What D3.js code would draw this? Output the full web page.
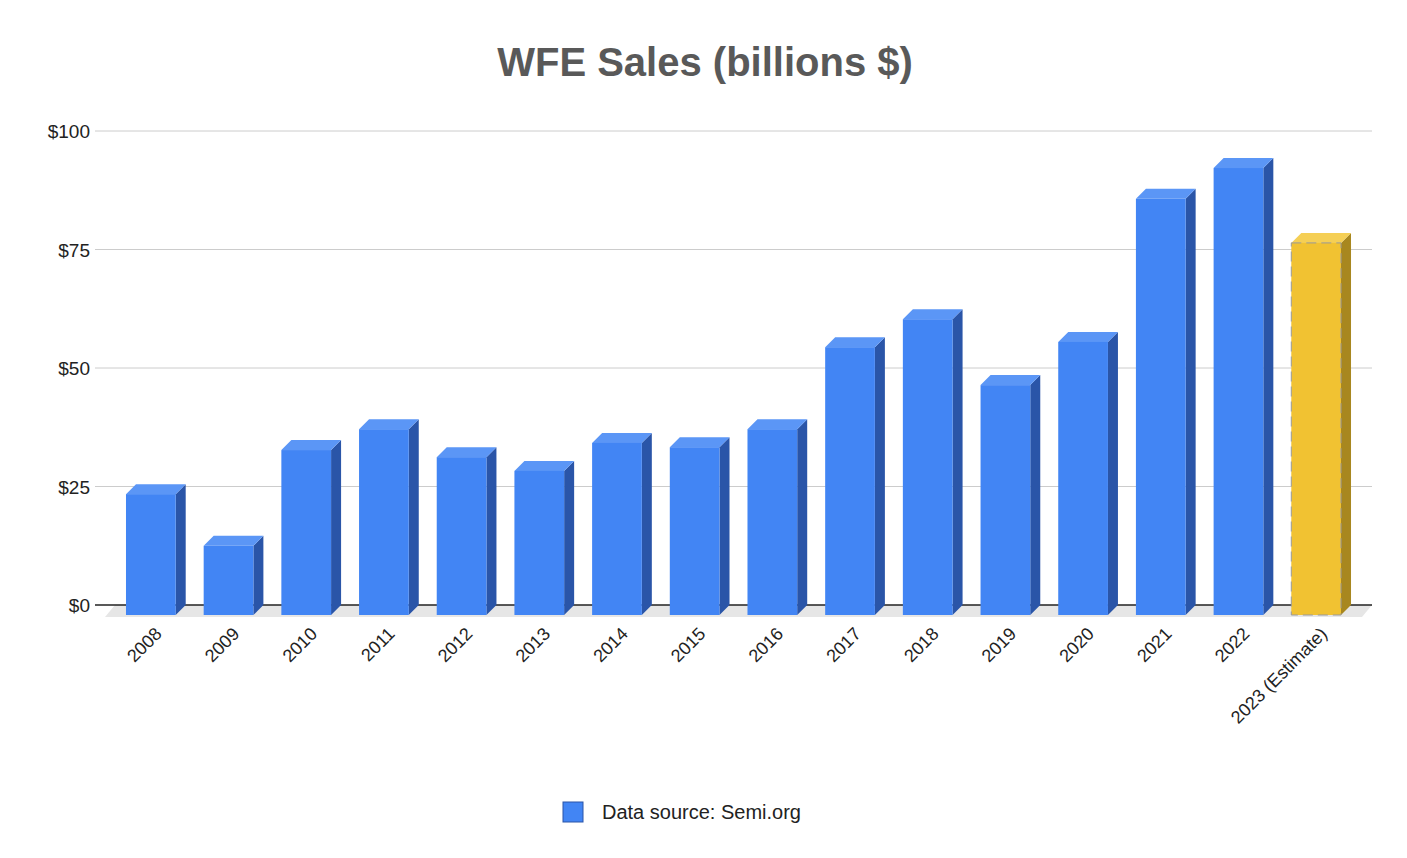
<!DOCTYPE html>
<html><head><meta charset="utf-8">
<script src="https://cdn.jsdelivr.net/npm/d3@7"></script>
<style>body{margin:0;background:#fff}text{font-family:"Liberation Sans",Arial,sans-serif}</style>
</head><body><div id="viz"></div>
<script>
const years = ['2008','2009','2010','2011','2012','2013','2014','2015','2016','2017','2018','2019','2020','2021','2022','2023 (Estimate)'];
const sales = [25.5,14.6,34.8,39.2,33.3,30.4,36.3,35.4,39.2,56.5,62.4,48.5,57.6,87.8,94.3,78.5];
const yTicks = [0,25,50,75,100];

const width = 1407, height = 858, depth = 10; // 3d offset
const svg = d3.select('#viz').append('svg').attr('width', width).attr('height', height);

const x = d3.scaleBand().domain(years).range([112, 1355]).paddingInner(0.36).paddingOuter(0.18);
const y = d3.scaleLinear().domain([0, 100]).range([605, 131]);

svg.append('text').attr('x', 705).attr('y', 76).attr('text-anchor', 'middle')
  .attr('font-size', 40).attr('font-weight', 'bold').attr('fill', '#595959').text('WFE Sales (billions $)');

// floor
svg.append('path').attr('fill', '#e6e6e6')
  .attr('d', `M105,${y(0)+depth+2}L${1372-depth},${y(0)+depth+2}L1372,${y(0)}L${105+depth},${y(0)}Z`);

// gridlines
svg.selectAll('.grid').data(yTicks).enter().append('line')
  .attr('x1', 95).attr('x2', 1372).attr('y1', d => y(d)).attr('y2', d => y(d))
  .attr('stroke', d => d === 0 ? '#222' : '#ccc').attr('stroke-width', d => d === 0 ? 1.5 : 1);
svg.selectAll('.ylab').data(yTicks).enter().append('text')
  .attr('x', 90).attr('y', d => y(d) + 7).attr('text-anchor', 'end').attr('font-size', 19).attr('fill', '#222')
  .text(d => '$' + d);

const bw = x.bandwidth();
const g = svg.selectAll('.bar').data(years).enter().append('g');
const col = (i, a, b) => i === years.length - 1 ? a : b;
g.append('path') // side
  .attr('fill', (d, i) => col(i, '#a8871f', '#2a55a8'))
  .attr('d', (d, i) => { const x0 = x(d) + bw, t = y(sales[i]);
    return `M${x0},${t+depth}L${x0+depth},${t}L${x0+depth},${y(0)}L${x0},${y(0)+depth}Z`; });
g.append('path') // top
  .attr('fill', (d, i) => col(i, '#f5cf55', '#5b96f6'))
  .attr('d', (d, i) => { const x0 = x(d), t = y(sales[i]);
    return `M${x0},${t+depth}L${x0+depth},${t}L${x0+bw+depth},${t}L${x0+bw},${t+depth}Z`; });
g.append('rect') // front
  .attr('x', d => x(d)).attr('width', bw)
  .attr('y', (d, i) => y(sales[i]) + depth).attr('height', (d, i) => y(0) - y(sales[i]))
  .attr('fill', (d, i) => col(i, '#f1c232', '#4285f4'))
  .attr('stroke', (d, i) => col(i, '#999', 'none')).attr('stroke-dasharray', '10,5');

svg.selectAll('.xlab').data(years).enter().append('text')
  .attr('transform', d => `translate(${x(d) + bw/2 + 12},${y(0) + 30})rotate(-45)`)
  .attr('text-anchor', 'end').attr('font-size', 18).attr('fill', '#222').text(d => d);

// legend
svg.append('rect').attr('x', 563).attr('y', 802).attr('width', 20).attr('height', 20).attr('fill', '#4285f4').attr('stroke', '#2a55a8');
svg.append('text').attr('x', 602).attr('y', 819).attr('font-size', 20).attr('fill', '#222').text('Data source: Semi.org');
</script></body></html>
